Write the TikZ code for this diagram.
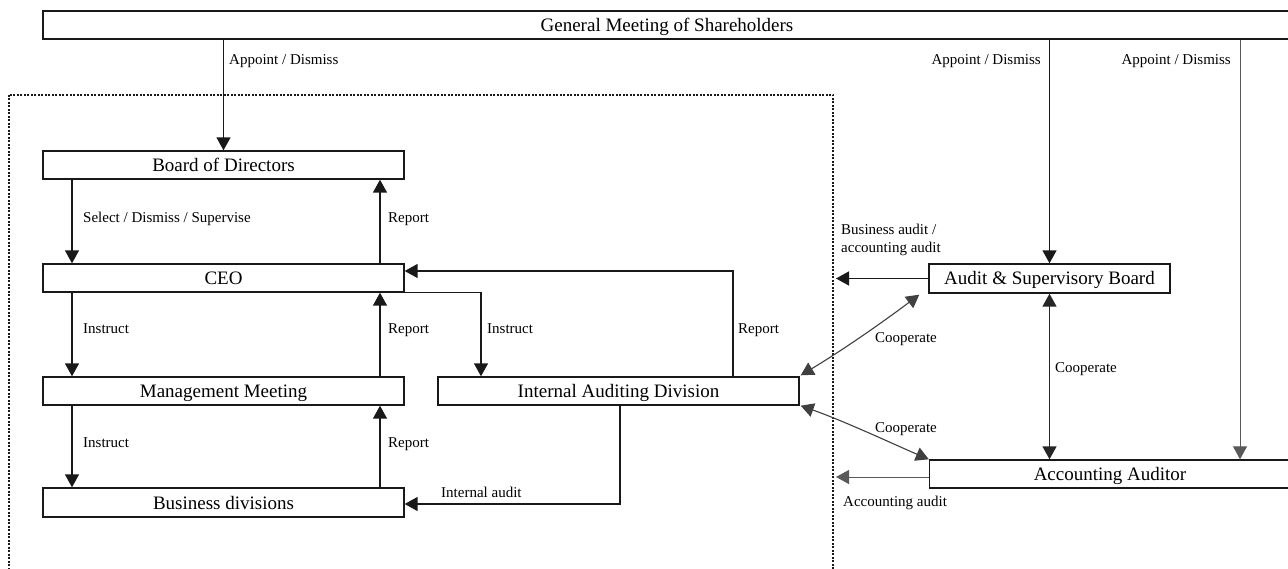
\documentclass[tikz,border=0pt]{standalone}
\usepackage{fontspec}
\setmainfont{Liberation Serif}
\usetikzlibrary{arrows.meta}
\begin{document}
\begin{tikzpicture}[x=1pt,y=-1pt,
  tip/.tip={Triangle[width=14pt,length=13pt]},
  box/.style={draw=black!90,line width=1.4pt,minimum height=28pt,inner sep=0pt,text height=13pt,text depth=0pt,font=\fontsize{19}{22}\selectfont},
  lab/.style={inner sep=0pt,anchor=west,text height=10pt,text depth=0pt,font=\fontsize{15}{18}\selectfont},
  arr/.style={draw=black!90,line width=1.5pt,-tip},
  arrthin/.style={draw=black!65,line width=1pt,-tip},
  darr/.style={draw=black!85,line width=1.5pt,tip-tip},
  darrthin/.style={draw=black!75,line width=1.1pt,tip-tip},
  dotbox/.style={draw=black!90,line width=1.2pt,dash pattern=on 2pt off 1.5pt}]
\useasboundingbox (0,0) rectangle (1288,569);
\clip (0,0) rectangle (1288,569);
\fill[white] (0,0) rectangle (1288,569);

% dotted company frame
\draw[dotbox] (9,95) rectangle (833,620);

% boxes
\node[box,minimum width=1248pt] (gm) at (667,25) {General Meeting of Shareholders};
\node[box,minimum width=361pt] (bod) at (223.5,165) {Board of Directors};
\node[box,minimum width=361pt] (ceo) at (223.5,278) {CEO};
\node[box,minimum width=361pt] (mm) at (223.5,391) {Management Meeting};
\node[box,minimum width=361pt,minimum height=29pt] (bd) at (223.5,502.5) {Business divisions};
\node[box,minimum width=361pt] (iad) at (618.5,391) {Internal Auditing Division};
\node[box,minimum width=241pt,minimum height=29pt] (asb) at (1049.5,278.5) {Audit \& Supervisory Board};
\node[box,minimum width=361pt] (aa) at (1110,474) {Accounting Auditor};

% helper coordinates
\coordinate (xaa) at (1240,0);
\coordinate (xframe) at (836,0);

% shareholders
\draw[arr] (bod.north |- gm.south) -- (bod.north);
\draw[arr] (asb.north |- gm.south) -- (asb.north);
\draw[arrthin] (gm.south -| xaa) -- (aa.north -| xaa);

% left chain
\draw[arr] ([xshift=-151.5pt]bod.south) -- ([xshift=-151.5pt]ceo.north);
\draw[arr] ([xshift=156.5pt]ceo.north) -- ([xshift=156.5pt]bod.south);
\draw[arr] ([xshift=-151.5pt]ceo.south) -- ([xshift=-151.5pt]mm.north);
\draw[arr] ([xshift=156.5pt]mm.north) -- ([xshift=156.5pt]ceo.south);
\draw[arr] ([xshift=-151.5pt]mm.south) -- ([xshift=-151.5pt]bd.north);
\draw[arr] ([xshift=156.5pt]bd.north) -- ([xshift=156.5pt]mm.south);

% internal auditing
\draw[arr] (ceo.south east) -| ([xshift=-137.5pt]iad.north);
\draw[arr] ([xshift=114.5pt]iad.north) |- ([yshift=7pt]ceo.east);
\draw[arr] ([xshift=1.5pt]iad.south) |- ([yshift=-1.5pt]bd.east);

% audits to the company
\draw[arr] (asb.west) -- (asb.west -| xframe);
\draw[arrthin] ([yshift=-3pt]aa.west) -- ([yshift=-3pt]aa.west -| xframe);

% cooperation
\draw[darr] (asb.south) -- (asb.south |- aa.north);
\draw[darrthin] ([shift={(1pt,1pt)}]iad.north east) .. controls +(40,-24) and +(-40,30) .. ([xshift=-9pt,yshift=-1pt]asb.south west);
\draw[darrthin] ([shift={(1pt,0pt)}]iad.south east) .. controls +(45,16) and +(-35,-15) .. (aa.north west);

% labels
\node[lab] (l1) at (229,60) {Appoint / Dismiss};
\node[lab,anchor=east] (l2) at (1041,60) {Appoint / Dismiss};
\node[lab,anchor=east] (l3) at (1231,60) {Appoint / Dismiss};
\node[lab] (l4) at (83,218) {Select / Dismiss / Supervise};
\node[lab] (l5) at (388,218) {Report};
\node[lab] (l6) at (83,329) {Instruct};
\node[lab] (l7) at (388,329) {Report};
\node[lab] (l8) at (83,442) {Instruct};
\node[lab] (l9) at (388,442) {Report};
\node[lab] (l10) at (487,329) {Instruct};
\node[lab] (l11) at (738,329) {Report};
\node[lab] (l12) at (441,492) {Internal audit};
\node[lab] (l13a) at (841,230) {Business audit /};
\node[lab] (l13b) at (841,248) {accounting audit};
\node[lab] (l14) at (875,338) {Cooperate};
\node[lab] (l15) at (1055,367) {Cooperate};
\node[lab] (l16) at (875,427) {Cooperate};
\node[lab] (l17) at (843,501) {Accounting audit};
\end{tikzpicture}
\end{document}
